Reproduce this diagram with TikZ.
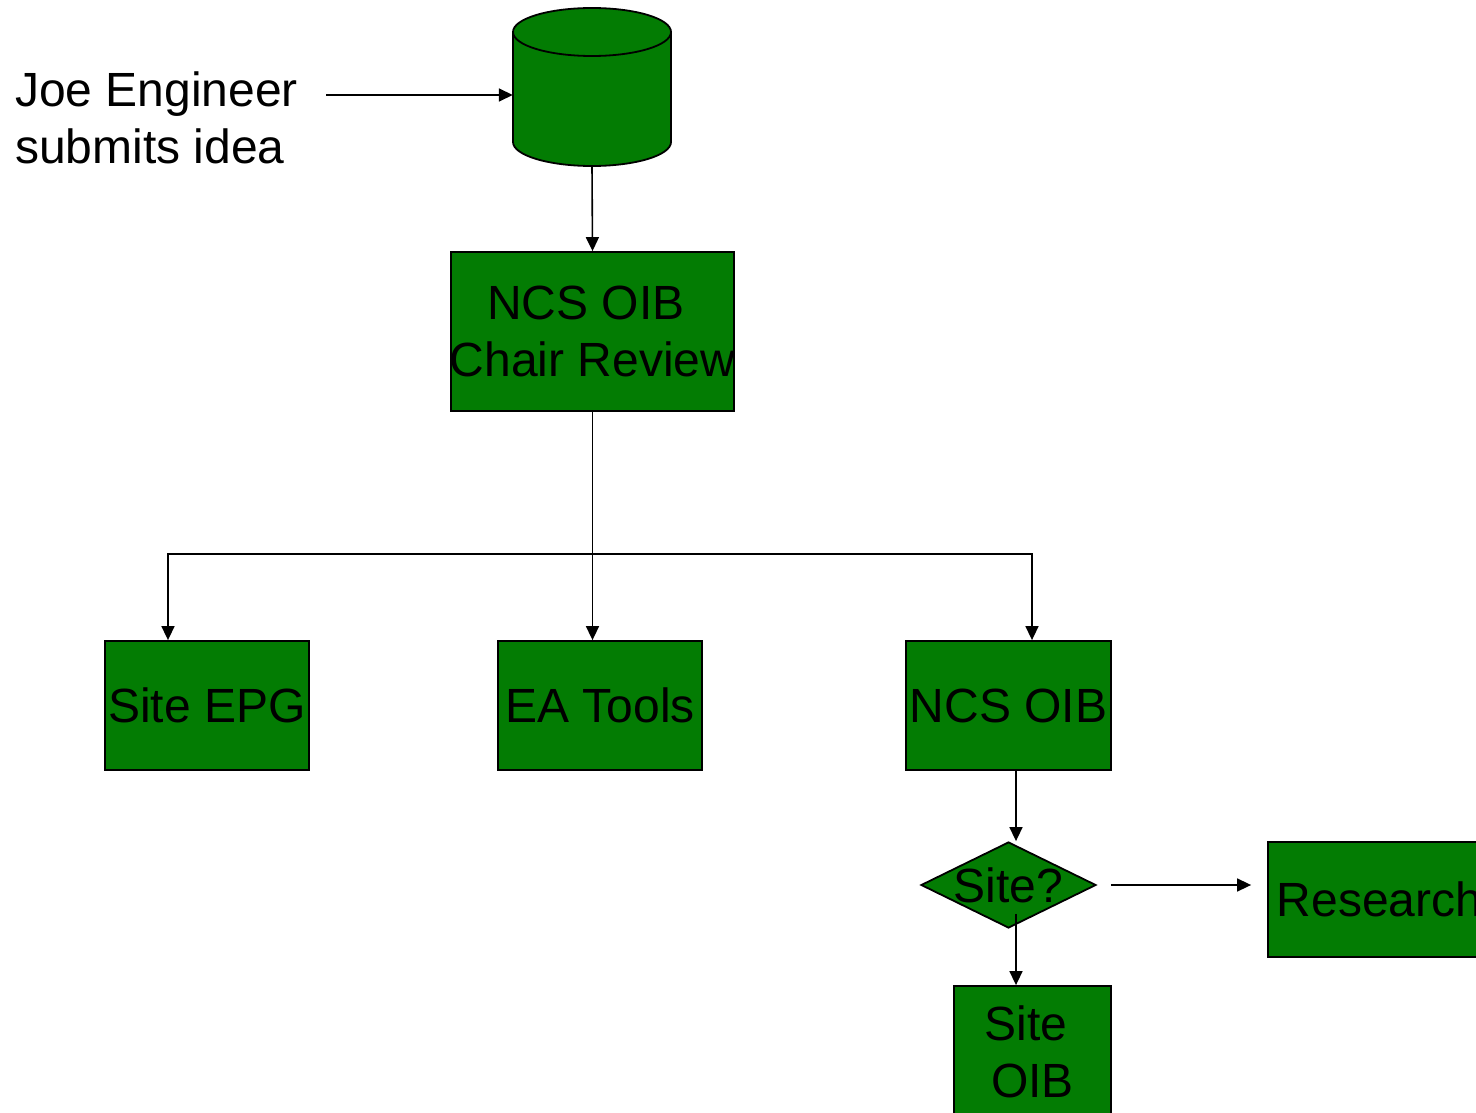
\documentclass[tikz,border=0pt]{standalone}
\usepackage{fontspec}
\setmainfont{Liberation Sans}
\usetikzlibrary{arrows.meta,shapes.geometric}
\definecolor{oibgreen}{RGB}{3,124,3}
\tikzset{
  box/.style={draw=black, line width=1.8pt, fill=oibgreen, rectangle, inner sep=0pt},
  decision/.style={draw=black, line width=1.8pt, fill=oibgreen, diamond, inner sep=0pt},
  txt/.style={font=\fontsize{48}{57.6}\selectfont, align=center, inner sep=0pt, text=black},
  conn/.style={line width=1.6pt, -{Triangle[length=14pt,width=13pt]}},
}
\begin{document}
\begin{tikzpicture}[x=1pt,y=-1pt]
\useasboundingbox (0,0) rectangle (1476,1113);
\clip (0,0) rectangle (1476,1113);

% idea database (cylinder)
\node[inner sep=0pt, minimum width=158pt, minimum height=158pt] (db) at (592,87) {};
\draw[line width=1.8pt, fill=oibgreen] (513,32) -- (513,142)
  arc[start angle=180, end angle=360, x radius=79pt, y radius=24pt] -- (671,32) -- cycle;
\draw[line width=1.8pt, fill=oibgreen] (592,32) ellipse [x radius=79pt, y radius=24pt];

% submitter
\node[txt, align=left, anchor=west] (joe) at (15,118) {Joe Engineer\\submits idea};

% process boxes
\node[box, minimum width=283pt, minimum height=159pt,
      label={[txt]center:{NCS OIB\kern13.3pt\relax\\Chair Review}}] (review) at (592.5,331.5) {};
\node[box, minimum width=204pt, minimum height=129pt,
      label={[txt]center:Site EPG}] (siteepg) at (207,705.5) {};
\node[box, minimum width=204pt, minimum height=129pt,
      label={[txt]center:EA Tools}] (eatools) at (600,705.5) {};
\node[box, minimum width=205pt, minimum height=129pt,
      label={[txt]center:NCS OIB}] (ncsoib) at (1008.5,705.5) {};
\node[decision, minimum width=175pt, minimum height=86pt,
      label={[txt]center:Site?}] (site) at (1008.5,885) {};
\node[box, minimum width=223pt, minimum height=115pt,
      label={[txt]center:Research}] (research) at (1379.5,899.5) {};
\node[box, minimum width=157pt, minimum height=132pt,
      label={[txt]center:{Site\kern13.3pt\relax\\OIB}}] (siteoib) at (1032.5,1052) {};

% connectors
\coordinate (dbin) at ([yshift=-8pt]db.west);
\coordinate (joeout) at ([xshift=28pt]joe.east);
\draw[conn] (joeout |- dbin) -- (dbin);
\draw[conn] (db.south) -- (review.north);
\coordinate (split) at (review.south |- 0,554);
\draw[conn] (review.south) -- (review.south |- eatools.north);
\draw[conn] (split) -| ([xshift=-39pt]siteepg.north);
\draw[conn] (split) -| ([xshift=23.5pt]ncsoib.north);
\draw[conn] ([xshift=7.5pt]ncsoib.south) -- ([xshift=7.5pt]ncsoib.south |- site.north);
\coordinate (siteout) at ([xshift=7.5pt,yshift=15pt]site.south);
\draw[conn] (siteout) -- (siteout |- siteoib.north);
\draw[conn, shorten <=14pt, shorten >=16pt] (site.east) -- (research.west |- site.east);
\end{tikzpicture}
\end{document}
